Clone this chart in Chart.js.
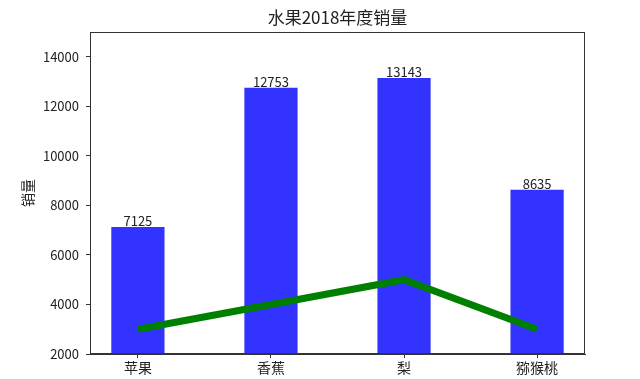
<!DOCTYPE html>
<html>
<head>
<meta charset="utf-8">
<script src="https://cdn.jsdelivr.net/npm/chart.js@4"></script>
<style>
  html, body { margin: 0; padding: 0; background: #fff; }
  #wrap { width: 640px; height: 379px; }
</style>
</head>
<body>
<div id="wrap"><canvas id="c" width="640" height="379"></canvas></div>
<script>
const chartTitle = '水果2018年度销量';
const yAxisTitle = '销量';
const categories = ['苹果', '香蕉', '梨', '猕猴桃'];
const sales = [7125, 12753, 13143, 8635];
const lineValues = [3000, 4000, 5000, 3000];
const yTicks = [2000, 4000, 6000, 8000, 10000, 12000, 14000];

const FONT = '"Noto Sans CJK SC", "DejaVu Sans", sans-serif';
const TEXT = '#222';

const framePlugin = {
  id: 'frame',
  afterDraw(chart) {
    const {ctx, chartArea: a} = chart;
    ctx.save();
    ctx.strokeStyle = '#333';
    ctx.lineWidth = 1;
    ctx.strokeRect(Math.round(a.left) + 0.5, Math.round(a.top) + 0.5,
                   Math.round(a.right - a.left) - 1, Math.round(a.bottom - a.top) - 1);
    // title
    ctx.fillStyle = TEXT;
    ctx.font = '17px ' + FONT;
    ctx.textAlign = 'center';
    ctx.textBaseline = 'middle';
    ctx.fillText(chartTitle, (a.left + a.right) / 2, 18);
    ctx.restore();
  }
};

const valueLabels = {
  id: 'valueLabels',
  afterDatasetsDraw(chart) {
    const {ctx} = chart;
    const meta = chart.getDatasetMeta(0);
    ctx.save();
    ctx.fillStyle = TEXT;
    ctx.font = '13px ' + FONT;
    ctx.textAlign = 'center';
    ctx.textBaseline = 'bottom';
    meta.data.forEach((bar, i) => {
      ctx.fillText(String(sales[i]), bar.x, bar.y + 1);
    });
    ctx.restore();
  }
};

new Chart(document.getElementById('c'), {
  type: 'bar',
  data: {
    datasets: [
      {
        type: 'bar',
        data: categories.map((c, i) => ({x: i, y: sales[i]})),
        backgroundColor: 'rgb(51,51,255)',
        borderWidth: 0,
        categoryPercentage: 1,
        barPercentage: 0.4,
        order: 1
      },
      {
        type: 'line',
        data: categories.map((c, i) => ({x: i, y: lineValues[i]})),
        borderColor: 'rgb(0,128,0)',
        borderWidth: 7,
        pointRadius: 0,
        fill: false,
        tension: 0,
        order: 0
      }
    ]
  },
  options: {
    responsive: false,
    animation: false,
    layout: { padding: { left: 0, right: 55, top: 32, bottom: 0 } },
    plugins: { legend: { display: false }, tooltip: { enabled: false }, title: { display: false } },
    scales: {
      x: {
        type: 'linear',
        min: -0.36,
        max: 3.36,
        offset: false,
        afterBuildTicks(scale) { scale.ticks = categories.map((c, i) => ({value: i})); },
        afterFit(scale) { scale.height = 25; },
        ticks: {
          callback: (v) => categories[v],
          color: TEXT,
          font: { family: FONT, size: 14 },
          padding: 1,
          maxRotation: 0,
          autoSkip: false
        },
        grid: { display: true, drawOnChartArea: false, drawTicks: true, tickLength: 4, color: '#333', offset: false },
        border: { display: true, color: '#333' }
      },
      y: {
        min: 2000,
        max: 15000,
        afterBuildTicks(scale) { scale.ticks = yTicks.map(v => ({value: v})); },
        afterFit(scale) { scale.width = 90; },
        ticks: {
          callback: (v) => String(v),
          color: TEXT,
          font: { family: FONT, size: 13 },
          padding: 7
        },
        title: {
          display: true,
          text: yAxisTitle,
          color: TEXT,
          font: { family: FONT, size: 14 },
          padding: { top: 19, bottom: 0 }
        },
        grid: { display: true, drawOnChartArea: false, drawTicks: true, tickLength: 4, color: '#333' },
        border: { display: true, color: '#333' }
      }
    }
  },
  plugins: [framePlugin, valueLabels]
});
</script>
</body>
</html>
